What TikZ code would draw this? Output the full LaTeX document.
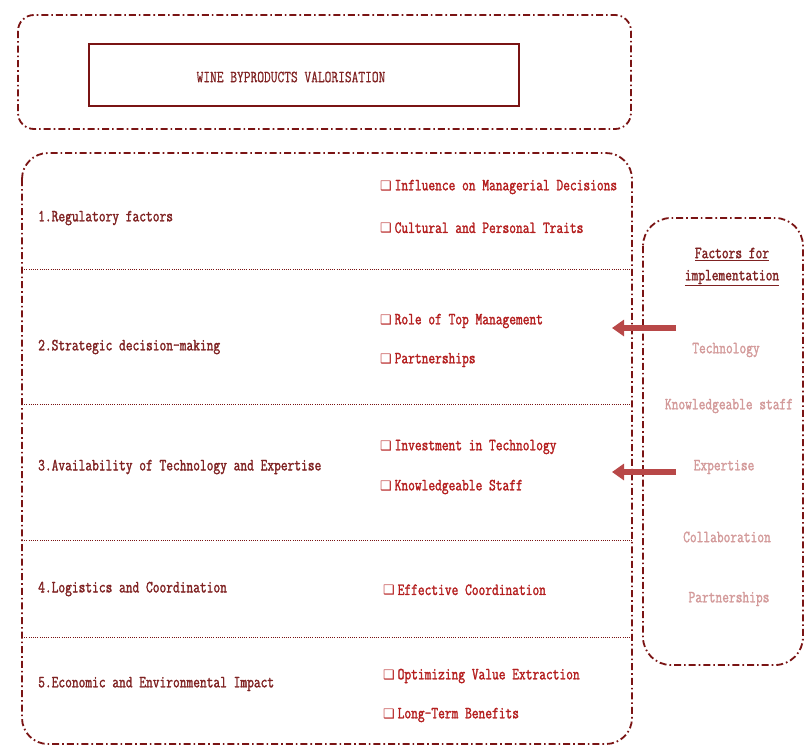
\documentclass[tikz,border=0pt]{standalone}
\usepackage{fontspec}
\usetikzlibrary{arrows.meta}
\newfontfamily\cf[FakeStretch=0.77,FakeBold=0.6]{Latin Modern Mono}
\newfontfamily\cfb[FakeStretch=0.77,FakeBold=1.6]{Latin Modern Mono}
\newfontfamily\symfont{DejaVu Sans}
\definecolor{dred}{HTML}{7A1414}
\definecolor{lbl}{HTML}{7F2222}
\definecolor{itm}{HTML}{B41E1E}
\definecolor{pale}{HTML}{D39A9A}
\definecolor{arr}{HTML}{B84848}
\tikzset{
  dashdot/.style={draw=dred, line width=1.8pt, rounded corners=#1,
    dash pattern=on 7pt off 3pt on 1.6pt off 3pt},
  sep/.style={draw=dred, line width=0.6pt, dash pattern=on 1pt off 1.2pt},
  base/.style={font=\cf\fontsize{17}{20}\selectfont, inner sep=0pt},
  lab/.style={base, anchor=west, text=lbl, font=\cfb\fontsize{17}{20}\selectfont},
  itemt/.style={base, anchor=west, text=itm, font=\cfb\fontsize{17}{20}\selectfont},
  palet/.style={base, text=pale, font=\cfb\fontsize{17}{20}\selectfont},
  bigarrow/.style={draw=arr, line width=5.5pt, -{Triangle[width=16pt,length=12pt]}},
}
\newcommand{\bx}{{\symfont\fontsize{13}{14}\selectfont ❑}\,}
\begin{document}
\begin{tikzpicture}[x=1pt,y=-1pt]
\useasboundingbox (0,0) rectangle (805,750);
% top box
\draw[dashdot=16pt] (18,15) rectangle (631,129);
\node[draw=dred, line width=2pt, minimum width=430pt, minimum height=62pt, inner sep=0pt] (title) at (304,75) {};
\node[base, text=lbl] (titletext) at (291,77) {WINE BYPRODUCTS VALORISATION};
% main box
\draw[dashdot=26pt] (22,153) rectangle (632,744);
\coordinate (s1l) at (22,269); \coordinate (s1r) at (632,269);
\coordinate (s2l) at (22,404); \coordinate (s2r) at (632,404);
\coordinate (s3l) at (22,540); \coordinate (s3r) at (632,540);
\coordinate (s4l) at (22,637); \coordinate (s4r) at (632,637);
\draw[sep] (s1l) -- (s1r);
\draw[sep] (s2l) -- (s2r);
\draw[sep] (s3l) -- (s3r);
\draw[sep] (s4l) -- (s4r);
% labels
\node[lab] (l1) at (38,218) {1.Regulatory factors};
\node[lab] (l2) at (38,347) {2.Strategic decision-making};
\node[lab] (l3) at (38,467) {3.Availability of Technology and Expertise};
\node[lab] (l4) at (38,589) {4.Logistics and Coordination};
\node[lab] (l5) at (38,684) {5.Economic and Environmental Impact};
% items
\node[itemt] (i1) at (380,187) {\bx Influence on Managerial Decisions};
\node[itemt] (i2) at (380,228) {\bx Cultural and Personal Traits};
\node[itemt] (i3) at (380,321) {\bx Role of Top Management};
\node[itemt] (i4) at (380,360) {\bx Partnerships};
\node[itemt] (i5) at (380,447) {\bx Investment in Technology};
\node[itemt] (i6) at (380,487) {\bx Knowledgeable Staff};
\node[itemt] (i7) at (383,590) {\bx Effective Coordination};
\node[itemt] (i8) at (383,676) {\bx Optimizing Value Extraction};
\node[itemt] (i9) at (383,715) {\bx Long-Term Benefits};
% right box
\draw[dashdot=28pt] (643,218) rectangle (803,665);
\node[base, text=lbl, font=\cfb\fontsize{17}{20}\selectfont] (f1) at (732,254) {\underline{Factors for}};
\node[base, text=lbl, font=\cfb\fontsize{17}{20}\selectfont] (f2) at (732,278) {\underline{implementation}};
\node[palet] (p1) at (726,350) {Technology};
\node[palet] (p2) at (729,406) {Knowledgeable staff};
\node[palet] (p3) at (724,467) {Expertise};
\node[palet] (p4) at (727,537) {Collaboration};
\node[palet] (p5) at (729,599) {Partnerships};
% arrows
\coordinate (a1s) at (676,328); \coordinate (a1e) at (612,328);
\coordinate (a2s) at (676,472); \coordinate (a2e) at (612,472);
\draw[bigarrow] (a1s) -- (a1e);
\draw[bigarrow] (a2s) -- (a2e);
\end{tikzpicture}
\end{document}
